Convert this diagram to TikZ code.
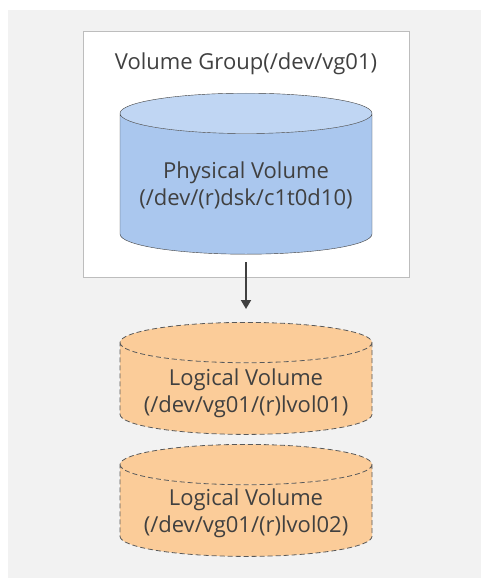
\documentclass[tikz,border=0pt]{standalone}
\usepackage{fontspec}
\setmainfont{Open Sans}
\usetikzlibrary{arrows.meta,shapes.geometric}
\definecolor{bggray}{HTML}{F2F2F2}
\definecolor{boxgray}{HTML}{BDBDBD}
\definecolor{txtgray}{HTML}{404040}
\definecolor{pvbody}{HTML}{AAC7EE}
\definecolor{pvtop}{HTML}{C0D6F3}
\definecolor{lvfill}{HTML}{FBCC99}

\begin{document}
\begin{tikzpicture}[
  x=1pt,
  y=-1pt,
  >={Triangle[width=10pt,length=9pt]},
  every node/.style={font=\fontsize{22}{27}\selectfont,text=txtgray,align=center},
  disk/.style={cylinder,shape border rotate=90,aspect=0.16,anchor=north,
    text width=252pt,minimum height=161pt,inner sep=0pt,draw=txtgray,thin,
    cylinder uses custom fill},
  pvdisk/.style={disk,cylinder body fill=pvbody,cylinder end fill=pvtop},
  lvdisk/.style={disk,minimum height=112pt,draw=black!65,line width=0.8pt,
    dash pattern=on 5pt off 3pt,cylinder body fill=lvfill,cylinder end fill=lvfill},
  link/.style={->,draw=txtgray,line width=1.8pt}
]
\useasboundingbox (0,0) rectangle (481,578);
\fill[bggray] (8,10) rectangle (481,578);

% Volume group
\node[draw=boxgray,fill=white,minimum width=326pt,minimum height=246pt] (vg) at (246,154) {};
\node (vgtitle) at (246,64) {Volume Group(/dev/vg01)};
\node[pvdisk] (pv) at (246,93) {};
\node (pvtext) at (246,185) {Physical Volume\\(/dev/(r)dsk/c1t0d10)};

% Logical volumes
\node[lvdisk] (lv1) at (246,322) {};
\node (lv1text) at (246,393) {Logical Volume\\(/dev/vg01/(r)lvol01)};
\node[lvdisk] (lv2) at (246,444) {};
\node (lv2text) at (246,513) {Logical Volume\\(/dev/vg01/(r)lvol02)};

\draw[link,shorten <=8pt,shorten >=13pt] (pv.south) -- (lv1.north);
\end{tikzpicture}
\end{document}
